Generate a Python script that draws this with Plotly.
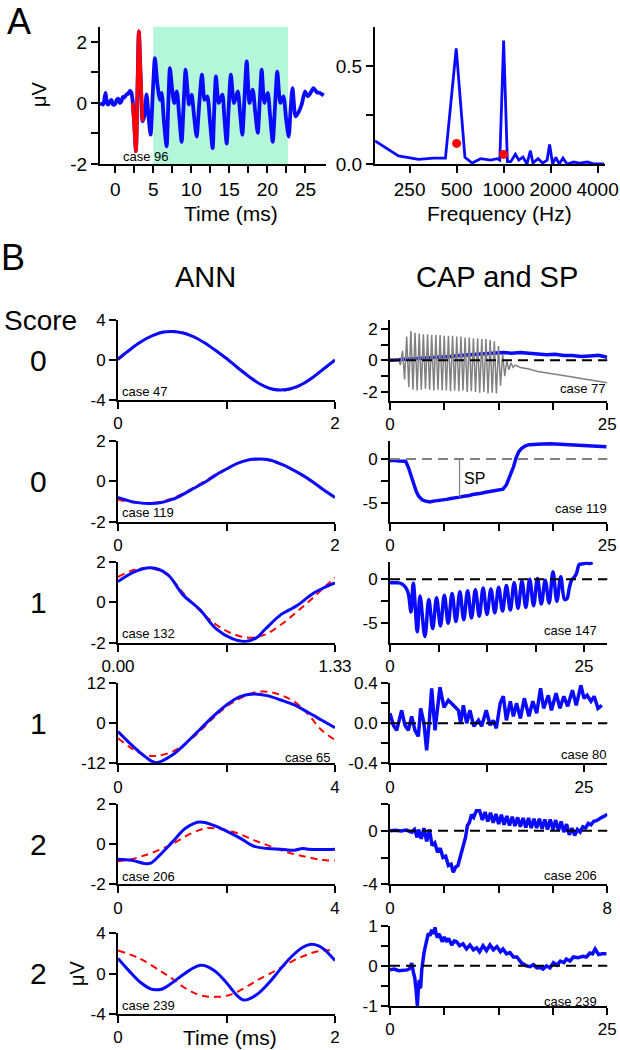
import math
import plotly.graph_objects as go

W, H = 620, 1050
FONT = "Liberation Sans, Arial, sans-serif"
BLUE = "#0a0aff"
RED = "#ff0000"
GRAY = "#808080"

# ---------------- panel A : recording + spectrum ----------------
a_t = [-2.0, -1.6, -1.27, -1.1, -0.92, -0.7, -0.5, -0.3, -0.04, 0.2, 0.39, 0.6, 0.8, 1.0, 1.2, 1.49, 1.7,
       1.93, 2.1, 2.28, 2.5, 2.72, 2.92, 3.11, 3.35, 3.6, 3.85, 4.12, 4.4, 4.65, 4.95, 5.22, 5.55, 5.88,
       6.1, 6.4, 6.75, 6.98, 7.19, 7.5, 7.76, 8.1, 8.4, 8.73, 9.0, 9.25, 9.5, 9.7, 10.04, 10.35, 10.7,
       11.05, 11.4, 11.75, 12.1, 12.45, 12.8, 13.0, 13.24, 13.6, 14.08, 14.35, 14.65, 14.9, 15.2, 15.6,
       16.1, 16.4, 16.7, 17.0, 17.28, 17.65, 18.07, 18.4, 18.73, 19.0, 19.25, 19.6, 20.04, 20.35, 20.7,
       21.0, 21.3, 21.7, 22.1, 22.45, 22.8, 23.05, 23.3, 23.7, 24.1, 24.5, 24.95, 25.3, 25.6, 26.05,
       26.5, 26.9, 27.4]
a_v = [0.0, -0.05, 0.33, 0.0, -0.05, 0.05, 0.1, -0.05, -0.05, 0.1, 0.14, 0.0, 0.05, 0.2, 0.18, 0.28, 0.3,
       0.4, 0.35, 0.1, -0.7, -1.58, 0.4, 2.35, 0.8, -0.6, -0.4, 0.28, -0.5, -1.04, 0.4, 1.47, 0.6, 0.1,
       0.33, -0.6, -1.42, 0.0, 1.14, 0.4, 0.0, 0.38, -0.4, -1.27, 0.0, 1.09, 0.4, -0.05, 0.27, -0.4, -1.1,
       0.0, 0.93, 0.1, 0.22, -0.6, -1.48, -0.3, 0.87, 0.0, 0.27, -0.5, -1.33, -0.2, 0.93, 0.0,
       0.38, -0.3, -1.04, 0.2, 1.36, 0.0, 0.44, -0.3, -0.98, 0.1, 1.09, 0.0, 0.33, -0.4, -1.27,
       -0.1, 1.03, 0.0, 0.22, -0.5, -1.1, -0.2, 0.49, -0.44, -0.3, -0.05, 0.38, 0.22, 0.3, 0.49,
       0.35, 0.33, 0.25]
a_red_t = [2.28, 2.5, 2.72, 2.92, 3.11, 3.35, 3.6]
a_red_v = [0.0, -0.7, -1.58, 0.4, 2.35, 0.8, -0.6]
a_window = [5.0, 22.7]

spec_f = [150, 212, 285, 357, 424, 497, 565, 629, 712, 826, 912, 945, 1000, 1057, 1110, 1190, 1250, 1330,
          1410, 1485, 1540, 1660, 1780, 1900, 1970, 2060, 2160, 2270, 2400, 2550, 2810, 3050, 3450, 3800, 4400]
spec_a = [0.118, 0.041, 0.024, 0.03, 0.03, 0.59, 0.034, 0.005, 0.027, 0.02, 0.027, 0.02, 0.63, 0.012, 0.012,
          0.05, 0.02, 0.035, 0.0, 0.068, 0.005, 0.027, 0.005, 0.02, 0.1, 0.0, 0.034, 0.0, 0.03, 0.0, 0.01,
          0.005, 0.01, 0.0, 0.0]
dot_f = [500, 1000]
dot_a = [0.105, 0.049]

# ---------------- panel B : ANN (blue = recording, red = ANN) ----------------
ann1_t = [0, 0.1, 0.2, 0.3, 0.4, 0.5, 0.6, 0.7, 0.8, 0.9, 1.0, 1.1, 1.2, 1.3, 1.4, 1.5, 1.6, 1.7, 1.8, 1.9, 2.0]
ann1_blue = [0.1, 0.95, 1.75, 2.35, 2.75, 2.85, 2.7, 2.3, 1.7, 0.95, 0.15, -0.75, -1.6, -2.35, -2.85, -3.0,
             -2.85, -2.4, -1.7, -0.85, 0.0]
ann1_red = [0.0, 0.9, 1.7, 2.35, 2.8, 2.9, 2.75, 2.35, 1.75, 1.0, 0.2, -0.7, -1.55, -2.3, -2.85, -3.05,
            -2.9, -2.45, -1.75, -0.9, 0.0]

ann2_t = ann1_t
ann2_blue = [-0.8, -0.97, -1.07, -1.1, -1.05, -0.9, -0.65, -0.35, -0.05, 0.3, 0.6, 0.88, 1.05, 1.1, 1.05,
             0.85, 0.6, 0.3, -0.05, -0.45, -0.8]
ann2_red = [-0.9, -1.02, -1.08, -1.08, -1.0, -0.85, -0.6, -0.3, 0.0, 0.33, 0.63, 0.88, 1.03, 1.08, 1.02,
            0.83, 0.58, 0.28, -0.08, -0.45, -0.82]

ann3_t = [0, 0.1, 0.2, 0.3, 0.4, 0.5, 0.6, 0.7, 0.78, 0.85, 0.9, 1.0, 1.05, 1.1, 1.2, 1.3, 1.33]
ann3_blue = [1.02, 1.5, 1.7, 1.4, 0.35, -0.35, -1.3, -1.8, -1.94, -1.75, -1.35, -0.6, -0.38, -0.15, 0.45,
             0.85, 0.95]
ann3_red_t = [0, 0.1, 0.2, 0.3, 0.4, 0.5, 0.6, 0.7, 0.8, 0.9, 1.0, 1.1, 1.2, 1.3, 1.33]
ann3_red = [1.25, 1.6, 1.68, 1.35, 0.45, -0.4, -1.1, -1.55, -1.75, -1.6, -1.1, -0.45, 0.25, 1.0, 1.2]

ann4_t = [0, 0.25, 0.5, 0.7, 1.0, 1.25, 1.5, 1.75, 2.0, 2.25, 2.5, 2.75, 3.0, 3.25, 3.5, 3.75, 4.0]
ann4_blue = [-2.5, -6.5, -10, -11.8, -9.5, -6, -2, 2, 5.5, 8, 8.8, 8.3, 7, 5.5, 3.3, 1, -1.3]
ann4_red = [-4.5, -7.5, -9.5, -9.8, -8.5, -6, -2.5, 1.5, 5, 7.5, 9.2, 9.5, 8.5, 6.5, 2.8, -2, -5]

ann5_t = [0, 0.25, 0.5, 0.6, 0.75, 1.0, 1.25, 1.5, 1.75, 2.0, 2.25, 2.5, 2.75, 3.0, 3.25, 3.4, 3.5, 3.75, 4.0]
ann5_blue = [-0.75, -0.8, -0.97, -0.95, -0.6, 0.1, 0.8, 1.1, 0.95, 0.65, 0.3, -0.1, -0.22, -0.25, -0.3,
             -0.22, -0.25, -0.27, -0.25]
ann5_red_t = [0, 0.25, 0.5, 0.75, 1.0, 1.25, 1.5, 1.65, 2.0, 2.25, 2.5, 2.75, 3.0, 3.25, 3.5, 3.75, 4.0]
ann5_red = [-0.85, -0.75, -0.55, -0.3, 0.0, 0.4, 0.7, 0.8, 0.7, 0.5, 0.2, -0.05, -0.3, -0.5, -0.65, -0.78, -0.82]

ann6_t = [0, 0.1, 0.2, 0.3, 0.35, 0.4, 0.5, 0.6, 0.7, 0.76, 0.8, 0.9, 1.0, 1.1, 1.15, 1.2, 1.3, 1.4, 1.5,
          1.6, 1.7, 1.77, 1.85, 1.9, 2.0]
ann6_blue = [1.5, 0.3, -0.8, -1.5, -1.6, -1.55, -0.9, -0.1, 0.6, 0.83, 0.8, 0.2, -0.9, -2.2, -2.6, -2.55,
             -1.9, -0.8, 0.5, 1.7, 2.6, 2.9, 2.75, 2.4, 1.3]
ann6_red_t = [0, 0.2, 0.4, 0.5, 0.6, 0.7, 0.8, 0.9, 1.0, 1.1, 1.2, 1.3, 1.4, 1.5, 1.6, 1.7, 1.8, 1.9, 2.0]
ann6_red = [2.3, 1.5, 0.2, -0.5, -1.3, -1.9, -2.25, -2.3, -2.2, -1.8, -1.2, -0.55, 0.0, 0.6, 1.2, 1.7, 2.1,
            2.3, 2.3]

# ---------------- panel B : CAP and SP ----------------
cap1_blue_t = [0, 1, 2, 3, 4, 5, 6, 7, 8, 9, 10, 11, 11.5, 12.5, 13, 14, 15, 16, 17, 18, 19, 20, 21, 22,
               23, 24, 25]
cap1_blue = [0.0, 0.05, 0.1, 0.12, 0.15, 0.18, 0.2, 0.25, 0.3, 0.33, 0.37, 0.4, 0.45, 0.45, 0.5, 0.45,
             0.5, 0.45, 0.4, 0.35, 0.38, 0.3, 0.3, 0.25, 0.28, 0.32, 0.2]
cap1_gray_t = [0, 0.5, 0.8, 0.96, 1.20, 1.44, 1.68, 1.92, 2.16, 2.40, 2.64, 2.88, 3.12, 3.36, 3.60, 3.84,
               4.08, 4.32, 4.56, 4.80, 5.04, 5.28, 5.52, 5.76, 6.00, 6.24, 6.48, 6.72, 6.96, 7.20, 7.44,
               7.68, 7.92, 8.16, 8.40, 8.64, 8.88, 9.12, 9.36, 9.60, 9.84, 10.08, 10.32, 10.56, 10.80,
               11.04, 11.28, 11.52, 11.76, 12.00, 12.24, 12.48, 12.72, 12.96, 13.2, 13.44, 13.68, 13.92,
               14.16, 14.4, 15, 16, 17, 18, 19, 20, 21, 22, 23, 24, 25]
cap1_gray = [0.1, 0.1, 0.05, 0.1, -0.3, 0.6, -1.2, 1.5, -1.7, 1.85, -1.85, 1.75, -1.9, 1.7, -1.85, 1.65,
             -1.8, 1.65, -1.85, 1.6, -1.9, 1.6, -1.85, 1.6, -1.9, 1.55, -1.9, 1.55, -1.95, 1.55, -1.9,
             1.5, -1.95, 1.5, -1.9, 1.45, -2.0, 1.45, -1.95, 1.4, -2.0, 1.4, -2.05, 1.35, -2.0, 1.35,
             -2.1, 1.3, -2.05, 1.2, -2.1, 0.9, -1.6, 0.4, -1.0, 0.0, -0.6, -0.15, -0.45, -0.3, -0.45,
             -0.55, -0.7, -0.78, -0.88, -0.95, -1.05, -1.15, -1.25, -1.35, -1.42]

cap2_t = [0, 0.5, 1.0, 1.5, 1.8, 2.1, 2.4, 2.7, 3.0, 3.3, 3.7, 4.1, 4.6, 5.0, 5.5, 6.0, 6.5, 7.0, 7.5, 8.0,
          8.5, 9.0, 9.5, 10.0, 10.5, 11.0, 11.5, 12.0, 12.5, 13.0, 13.4, 13.8, 14.2, 14.5, 14.8, 15.15,
          15.6, 16.0, 16.5, 17.5, 18.5, 19.5, 20.5, 21.5, 22.5, 23.5, 24.3, 24.9]
cap2_v = [-0.19, -0.15, -0.22, -0.2, -0.25, -0.9, -1.8, -2.8, -3.6, -4.2, -4.6, -4.75, -4.85, -4.75, -4.7,
          -4.6, -4.55, -4.45, -4.4, -4.3, -4.2, -4.15, -4.0, -3.95, -3.85, -3.75, -3.65, -3.55, -3.5,
          -3.4, -2.9, -2.0, -0.9, 0.1, 0.8, 1.2, 1.5, 1.62, 1.68, 1.7, 1.72, 1.68, 1.65, 1.6, 1.55, 1.5,
          1.45, 1.38]
sp_time = 8.0
sp_level = -4.3

cap3_t = [0, 0.5, 1.0, 1.5, 2.0, 2.36, 2.7, 3.0, 3.52, 3.87, 4.5, 5.0, 5.5, 6.0, 6.5, 7.0, 7.5, 8.0, 8.5,
          9.0, 9.5, 10.0, 10.5, 11.0, 11.5, 12.0, 12.5, 13.0, 13.5, 14.0, 14.5, 15.0, 15.5, 16.0, 16.5,
          17.0, 17.5, 18.0, 18.5, 19.0, 19.5, 20.0, 20.5, 21.0, 21.5, 22.0, 22.5, 22.8, 23.1, 23.4, 23.7,
          24.0, 24.4, 24.8, 25.3, 25.8, 26.1]
cap3_v = [-0.38, -0.4, -0.4, -0.5, -0.9, -1.6, -3.7, -0.45, -5.95, -1.9, -6.5, -2.3, -5.6, -2.1, -5.3,
          -1.8, -5.0, -1.6, -4.8, -1.4, -4.6, -1.3, -4.4, -1.2, -4.2, -1.0, -4.0, -1.1, -3.8, -0.9, -3.6,
          -0.7, -3.5, -0.4, -3.3, -0.2, -3.2, 0.0, -3.0, 0.1, -2.8, -0.1, -2.7, 0.85, -2.5, 0.3, -2.3,
          -2.2, -1.0, -0.1, 0.2, 0.6, 1.7, 1.75, 1.85, 1.8, 1.9]

cap4_t = [0, 0.43, 0.86, 1.29, 1.5, 1.93, 2.36, 2.79, 3.22, 3.65, 3.95, 4.38, 4.72, 5.07, 5.37, 5.8, 6.44,
          6.96, 7.52, 8.16, 8.81, 9.1, 9.45, 9.88, 10.3, 10.8, 11.4, 11.8, 12.4, 12.9, 13.3, 13.7, 14.2,
          14.6, 15.0, 15.5, 15.9, 16.3, 16.8, 17.3, 17.9, 18.4, 18.9, 19.4, 19.8, 20.4, 20.8, 21.4, 21.9,
          22.4, 22.9, 23.5, 24.0, 24.6, 25.0, 25.4, 25.9, 26.3, 26.8, 27.3]
cap4_v = [0.1, -0.02, -0.07, 0.08, 0.13, -0.02, -0.07, 0.07, -0.07, -0.13, 0.15, 0.0, -0.27, 0.03, 0.35,
          -0.07, 0.36, 0.16, 0.23, 0.18, 0.13, 0.0, 0.18, 0.0, 0.13, -0.03, 0.03, -0.03, 0.13, -0.02, 0.03,
          -0.05, 0.2, 0.27, 0.03, 0.22, 0.07, 0.2, 0.05, 0.25, 0.07, 0.22, 0.1, 0.35, 0.15, 0.28, 0.13,
          0.3, 0.15, 0.27, 0.17, 0.33, 0.18, 0.38, 0.25, 0.28, 0.22, 0.27, 0.15, 0.18]

cap5_t = [0, 0.2, 0.4, 0.6, 0.8, 0.9, 1.0, 1.05, 1.15, 1.25, 1.35, 1.45, 1.55, 1.65, 1.75, 1.85, 1.95, 2.05,
          2.15, 2.25, 2.33, 2.42, 2.5, 2.6, 2.7, 2.78, 2.85, 2.92, 3.0, 3.08, 3.18, 3.3, 3.4, 3.5, 3.6,
          3.7, 3.8, 3.9, 4.0, 4.1, 4.2, 4.3, 4.4, 4.5, 4.6, 4.7, 4.8, 4.9, 5.0, 5.1, 5.2, 5.3, 5.4, 5.5,
          5.6, 5.7, 5.8, 5.9, 6.0, 6.1, 6.2, 6.3, 6.4, 6.5, 6.6, 6.7, 6.8, 6.9, 7.0, 7.1, 7.2, 7.3, 7.4,
          7.5, 7.6, 7.7, 7.8, 7.9, 8.0]
cap5_v = [0.0, 0.03, -0.02, 0.05, -0.1, 0.1, -0.5, 0.1, -0.6, 0.2, -0.8, 0.1, -1.1, -0.9, -1.6, -1.3, -2.0,
          -1.9, -2.6, -2.5, -3.1, -2.7, -2.6, -1.8, -1.0, -0.5, 0.4, 0.6, 1.2, 1.0, 1.5, 1.5, 0.8, 1.4,
          0.7, 1.35, 0.6, 1.25, 0.5, 1.2, 0.45, 1.1, 0.4, 1.05, 0.35, 1.0, 0.3, 0.95, 0.25, 0.95, 0.2,
          0.9, 0.2, 0.9, 0.15, 0.85, 0.1, 0.85, 0.1, 0.8, 0.0, 0.7, -0.1, 0.5, -0.3, 0.2, -0.35, 0.1,
          -0.1, 0.3, 0.2, 0.55, 0.45, 0.7, 0.75, 0.9, 1.0, 1.1, 1.25]

cap6_t = [0, 0.5, 1.0, 1.5, 2.0, 2.3, 2.5, 2.7, 2.85, 3.0, 3.1, 3.15, 3.25, 3.37, 3.45, 3.53, 3.65, 3.76,
          3.9, 4.03, 4.2, 4.41, 4.6, 4.8, 5.0, 5.18, 5.3, 5.45, 5.6, 5.75, 6.0, 6.25, 6.5, 6.75, 7.1, 7.4,
          7.67, 8.0, 8.4, 8.8, 9.2, 9.6, 9.97, 10.3, 10.7, 11.1, 11.5, 11.9, 12.3, 12.7, 13.0, 13.4, 13.8,
          14.2, 14.6, 15.15, 15.7, 16.1, 16.5, 16.9, 17.3, 17.6, 18.0, 18.4, 18.8, 19.2, 19.6, 20.0, 20.3,
          20.7, 21.1, 21.6, 22.2, 22.6, 23.0, 23.3, 23.6, 24.0, 24.4, 24.9]
cap6_v = [-0.1, -0.08, -0.12, -0.1, -0.1, -0.06, 0.07, -0.17, -0.3, -0.6, -0.95, -1.0, -0.6, -0.35, -0.55,
          -0.52, -0.1, 0.15, 0.3, 0.45, 0.6, 0.81, 0.75, 0.9, 0.8, 0.96, 0.8, 0.7, 0.8, 0.75, 0.6, 0.72,
          0.6, 0.68, 0.52, 0.62, 0.6, 0.5, 0.55, 0.42, 0.52, 0.4, 0.45, 0.35, 0.5, 0.38, 0.52, 0.4, 0.48,
          0.35, 0.42, 0.3, 0.33, 0.22, 0.22, 0.07, 0.0, -0.02, 0.03, -0.05, -0.04, -0.08, 0.0, -0.05, 0.08,
          0.02, 0.12, 0.08, 0.17, 0.12, 0.22, 0.2, 0.24, 0.22, 0.32, 0.3, 0.42, 0.28, 0.3, 0.3]

scores = ["0", "0", "1", "1", "2", "2"]
ann_cases = ["case 47", "case 119", "case 132", "case 65", "case 206", "case 239"]
cap_cases = ["case 77", "case 119", "case 147", "case 80", "case 206", "case 239"]

# ---------------- layout helpers (pixel boxes) ----------------
def xd(a, b):
    return [a / W, b / W]


def yd(top, bottom):
    return [1 - bottom / H, 1 - top / H]


def px(x):
    return x / W


def py(y):
    return 1 - y / H


ANN_ROWS = [(320, 400), (440.7, 521.7), (561.7, 642.7), (683.3, 763.3), (804, 884.3), (933.3, 1014)]
CAP_ROWS = [(320, 400.7), (440.7, 521.7), (561.7, 642.7), (683.3, 763.3), (804, 884.3), (925.7, 1006)]

base = dict(showline=True, linecolor="black", linewidth=2, ticks="outside", ticklen=7, tickwidth=2,
            tickcolor="black", showgrid=False, zeroline=False, fixedrange=True, automargin=False)

fig = go.Figure()
layout = {}


def add_axes(n, xdom, ydom, xr, yr, xticks, yticks, xtype="linear", fs=17):
    sfx = "" if n == 1 else str(n)
    tf = dict(size=fs, color="black", family=FONT)
    layout["xaxis" + sfx] = dict(base, domain=xdom, range=xr, anchor="y" + sfx, type=xtype,
                                 tickvals=xticks[0], ticktext=xticks[1], tickfont=tf)
    layout["yaxis" + sfx] = dict(base, domain=ydom, range=yr, anchor="x" + sfx,
                                 tickvals=yticks[0], ticktext=yticks[1], tickfont=tf)


def ref(n):
    return ("x" if n == 1 else f"x{n}"), ("y" if n == 1 else f"y{n}")


# panel A
add_axes(1, xd(100, 326), yd(26.7, 164), [-2, 27.7], [-2, 2.5],
         ([0, 2.5, 5, 7.5, 10, 12.5, 15, 17.5, 20, 22.5, 25],
          ["0", "", "5", "", "10", "", "15", "", "20", "", "25"]),
         ([-2, -1, 0, 1, 2], ["-2", "", "0", "", "2"]), fs=19)
add_axes(2, xd(375, 605), yd(26.7, 164), [math.log10(150), math.log10(4460)], [0, 0.7],
         ([250, 500, 1000, 2000, 4000], ["250", "500", "1000", "2000", "4000"]),
         ([0, 0.25, 0.5], ["0.0", "", "0.5"]), xtype="log", fs=19)

x1, y1 = ref(1)
fig.add_trace(go.Scatter(x=a_t, y=a_v, mode="lines", line=dict(color=BLUE, width=3.8, shape="spline",
                                                                smoothing=0.7), xaxis=x1, yaxis=y1))
fig.add_trace(go.Scatter(x=a_red_t, y=a_red_v, mode="lines", line=dict(color=RED, width=3.6, shape="spline",
                                                                        smoothing=0.7), xaxis=x1, yaxis=y1))
x2, y2 = ref(2)
fig.add_trace(go.Scatter(x=spec_f, y=spec_a, mode="lines", line=dict(color=BLUE, width=2.8), xaxis=x2, yaxis=y2))
fig.add_trace(go.Scatter(x=dot_f, y=dot_a, mode="markers", marker=dict(color=RED, size=9), xaxis=x2, yaxis=y2))

shapes = [dict(type="rect", xref=x1, yref="y domain", x0=a_window[0], x1=a_window[1], y0=0, y1=1,
               fillcolor="#b3f6d9", line=dict(width=0), layer="below")]

# ANN panels
ann_x = [(2, ["0", "", "2"]), (2, ["0", "", "2"]), (1.33, ["0.00", "", "1.33"]),
         (4, ["0", "", "4"]), (4, ["0", "", "4"]), (2, ["0", "", "2"])]
ann_y = [4, 2, 2, 12, 2, 4]
ann_data = [(ann1_t, ann1_blue, ann1_t, ann1_red), (ann2_t, ann2_blue, ann2_t, ann2_red),
            (ann3_t, ann3_blue, ann3_red_t, ann3_red), (ann4_t, ann4_blue, ann4_t, ann4_red),
            (ann5_t, ann5_blue, ann5_red_t, ann5_red), (ann6_t, ann6_blue, ann6_red_t, ann6_red)]
for i in range(6):
    n = 3 + i
    top, bot = ANN_ROWS[i]
    xe, xt = ann_x[i]
    ym = ann_y[i]
    add_axes(n, xd(118, 335), yd(top, bot), [0, xe], [-ym, ym], ([0, xe / 2, xe], xt),
             ([-ym, 0, ym], [str(-ym), "0", str(ym)]))
    xr_, yr_ = ref(n)
    bt, bv, rt, rv = ann_data[i]
    fig.add_trace(go.Scatter(x=rt, y=rv, mode="lines", line=dict(color=RED, width=2, dash="7px,5px",
                                                                  shape="spline"), xaxis=xr_, yaxis=yr_))
    fig.add_trace(go.Scatter(x=bt, y=bv, mode="lines", line=dict(color=BLUE, width=3, shape="spline"),
                             xaxis=xr_, yaxis=yr_))

# CAP panels
cap_cfg = [
    ([0, 25], [-2.55, 2.55], ([0, 6.25, 12.5, 18.75, 25], ["0", "", "", "", "25"]),
     ([-2, -1, 0, 1, 2], ["-2", "", "0", "", "2"])),
    ([0, 25], [-7.07, 2.07], ([0, 6.25, 12.5, 18.75, 25], ["0", "", "", "", "25"]),
     ([-5, -2.5, 0], ["-5", "", "0"])),
    ([0, 28], [-7.2, 2.0], ([0, 6.25, 12.5, 18.75, 25], ["0", "", "", "", "25"]),
     ([-5, -2.5, 0], ["-5", "", "0"])),
    ([0, 28], [-0.4, 0.4], ([0, 12.5, 25], ["0", "", "25"]),
     ([-0.4, -0.2, 0, 0.2, 0.4], ["-0.4", "", "0.0", "", "0.4"])),
    ([0, 8], [-4, 2], ([0, 2, 4, 6, 8], ["0", "", "", "", "8"]),
     ([-4, -2, 0, 2], ["-4", "", "0", ""])),
    ([0, 25], [-1, 1], ([0, 6.25, 12.5, 18.75, 25], ["0", "", "", "", "25"]),
     ([-1, -0.5, 0, 0.5, 1], ["-1", "", "0", "", "1"])),
]
cap_data = [(cap2_t, cap2_v), (cap3_t, cap3_v), (cap4_t, cap4_v), (cap5_t, cap5_v), (cap6_t, cap6_v)]
for i in range(6):
    n = 9 + i
    top, bot = CAP_ROWS[i]
    xr, yr, xt, yt = cap_cfg[i]
    add_axes(n, xd(390, 607.3), yd(top, bot), xr, yr, xt, yt)
    xr_, yr_ = ref(n)
    if i == 0:
        fig.add_trace(go.Scatter(x=cap1_blue_t, y=cap1_blue, mode="lines", line=dict(color=BLUE, width=3.5),
                                 xaxis=xr_, yaxis=yr_))
        fig.add_trace(go.Scatter(x=cap1_gray_t, y=cap1_gray, mode="lines", line=dict(color=GRAY, width=1.5),
                                 xaxis=xr_, yaxis=yr_))
    else:
        t, v = cap_data[i - 1]
        shp = "spline" if i == 2 else "linear"
        fig.add_trace(go.Scatter(x=t, y=v, mode="lines", line=dict(color=BLUE, width=3.5, shape=shp),
                                 xaxis=xr_, yaxis=yr_))
    zc = GRAY if i == 1 else "black"
    shapes.append(dict(type="line", xref=f"{xr_} domain", yref=yr_, x0=0, x1=1, y0=0, y1=0,
                       line=dict(color=zc, width=2, dash="10px,6px")))

shapes.append(dict(type="line", xref="x10", yref="y10", x0=sp_time, x1=sp_time, y0=0, y1=sp_level,
                   line=dict(color=GRAY, width=1.2)))

# ---------------- text ----------------
ann = []


def text(s, x, y, size, xanchor="center", angle=0):
    ann.append(dict(text=s, x=px(x), y=py(y), xref="paper", yref="paper", showarrow=False,
                    xanchor=xanchor, yanchor="middle", textangle=angle,
                    font=dict(size=size, color="black", family=FONT)))


text("A", 19, 22, 36)
text("B", 13, 257, 36)
text("μV", 39, 94, 20, angle=-90)
text("Time (ms)", 231, 214, 21)
text("Frequency (Hz)", 500, 214, 21)
text("case 96", 121, 157, 13, xanchor="left")
text("ANN", 205, 277, 29)
text("CAP and SP", 497, 277, 29)
text("Score", 40, 320, 28)
for i, s in enumerate(scores):
    top, bot = ANN_ROWS[i]
    text(s, 38, (top + bot) / 2, 30)
ann_case_pos = [(120, 391.5, "left"), (120, 512, "left"), (120, 633, "left"), (333, 757.5, "right"),
                (120, 876, "left"), (120, 1005, "left")]
for i, s in enumerate(ann_cases):
    x, y, a = ann_case_pos[i]
    text(s, x, y, 13, xanchor=a)
cap_case_y = [388.3, 509, 630.7, 754, 875, 1001]
cap_case_x = [608, 609, 599, 609, 599, 599]
for i, s in enumerate(cap_cases):
    text(s, cap_case_x[i], cap_case_y[i], 13, xanchor="right")
text("SP", 462, 478, 16, xanchor="left")
text("μV", 77, 973, 20, angle=-90)
text("Time (ms)", 230, 1037, 21)

fig.update_layout(template="none", width=W, height=H, margin=dict(l=0, r=0, t=0, b=0, autoexpand=False),
                  paper_bgcolor="white", plot_bgcolor="rgba(0,0,0,0)", showlegend=False,
                  shapes=shapes, annotations=ann, font=dict(family=FONT, color="black"), **layout)

# the page body has a default 8px margin; drop it so the figure sits at the window's corner
fig.write_html("out.html", config={"displayModeBar": False},
               post_script="document.body.style.margin='0';document.body.style.overflow='hidden';")
